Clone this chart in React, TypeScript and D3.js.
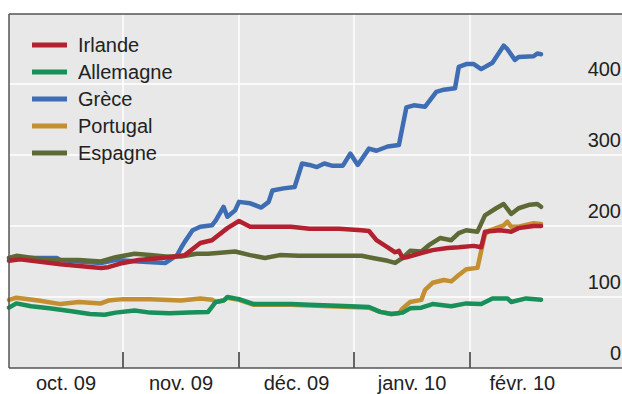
import React from "react";
import * as d3 from "d3";

type Pt = [string, number];

const monthTicks = ["2009-10-01", "2009-11-01", "2009-12-01", "2010-01-01", "2010-02-01", "2010-03-01"];
const monthLabels = ["oct. 09", "nov. 09", "déc. 09", "janv. 10", "févr. 10"];
const yTicks = [0, 100, 200, 300, 400];

const irlande: Pt[] = [
  ["2009-10-01", 151], ["2009-10-04", 153], ["2009-10-15", 146], ["2009-10-26", 141], ["2009-10-28", 142],
  ["2009-11-01", 148], ["2009-11-05", 152], ["2009-11-13", 156], ["2009-11-17", 159], ["2009-11-21", 176],
  ["2009-11-24", 180], ["2009-11-28", 197], ["2009-12-01", 207], ["2009-12-04", 199], ["2009-12-09", 199],
  ["2009-12-15", 199], ["2009-12-20", 196], ["2009-12-28", 196], ["2010-01-03", 194], ["2010-01-05", 193],
  ["2010-01-07", 180], ["2010-01-10", 170], ["2010-01-12", 163], ["2010-01-13", 165], ["2010-01-14", 155],
  ["2010-01-15", 156], ["2010-01-19", 162], ["2010-01-22", 166], ["2010-01-26", 169], ["2010-01-29", 170],
  ["2010-02-02", 172], ["2010-02-04", 170], ["2010-02-05", 192], ["2010-02-09", 194], ["2010-02-12", 192],
  ["2010-02-14", 197], ["2010-02-18", 200], ["2010-02-20", 200],
];

const allemagne: Pt[] = [
  ["2009-10-01", 85], ["2009-10-03", 91], ["2009-10-07", 87], ["2009-10-12", 84], ["2009-10-18", 80],
  ["2009-10-23", 76], ["2009-10-27", 75], ["2009-10-30", 78], ["2009-11-04", 81], ["2009-11-08", 78],
  ["2009-11-13", 77], ["2009-11-18", 78], ["2009-11-23", 79], ["2009-11-25", 93], ["2009-11-27", 95],
  ["2009-11-28", 100], ["2009-12-01", 97], ["2009-12-05", 90], ["2009-12-09", 90], ["2009-12-15", 90],
  ["2009-12-20", 89], ["2009-12-31", 87], ["2010-01-05", 86], ["2010-01-08", 79], ["2010-01-11", 76],
  ["2010-01-14", 78], ["2010-01-16", 84], ["2010-01-19", 85], ["2010-01-22", 90], ["2010-01-27", 87],
  ["2010-01-31", 91], ["2010-02-04", 90], ["2010-02-07", 98], ["2010-02-11", 98], ["2010-02-12", 93],
  ["2010-02-16", 98], ["2010-02-20", 96],
];

const grece: Pt[] = [
  ["2009-10-01", 155], ["2009-10-07", 155], ["2009-10-14", 155], ["2009-10-15", 152], ["2009-10-20", 150],
  ["2009-10-26", 148], ["2009-10-30", 152], ["2009-11-05", 150], ["2009-11-12", 148], ["2009-11-15", 159],
  ["2009-11-16", 169], ["2009-11-17", 178], ["2009-11-19", 194], ["2009-11-21", 199], ["2009-11-24", 201],
  ["2009-11-25", 208], ["2009-11-27", 227], ["2009-11-28", 213], ["2009-11-30", 222], ["2009-12-01", 234],
  ["2009-12-04", 232], ["2009-12-07", 226], ["2009-12-09", 234], ["2009-12-10", 250], ["2009-12-13", 253],
  ["2009-12-16", 255], ["2009-12-18", 288], ["2009-12-20", 286], ["2009-12-22", 283], ["2009-12-24", 288],
  ["2009-12-26", 285], ["2009-12-29", 285], ["2009-12-31", 302], ["2010-01-02", 286], ["2010-01-05", 309],
  ["2010-01-07", 306], ["2010-01-10", 312], ["2010-01-13", 314], ["2010-01-15", 367], ["2010-01-17", 370],
  ["2010-01-20", 368], ["2010-01-23", 389], ["2010-01-25", 392], ["2010-01-28", 394], ["2010-01-29", 424],
  ["2010-01-31", 428], ["2010-02-02", 428], ["2010-02-04", 421], ["2010-02-07", 430], ["2010-02-10", 454],
  ["2010-02-11", 449], ["2010-02-13", 434], ["2010-02-14", 438], ["2010-02-18", 439], ["2010-02-19", 443],
  ["2010-02-20", 442],
];

const portugal: Pt[] = [
  ["2009-10-01", 96], ["2009-10-03", 99], ["2009-10-09", 95], ["2009-10-15", 90], ["2009-10-20", 93],
  ["2009-10-26", 91], ["2009-10-28", 95], ["2009-11-01", 97], ["2009-11-08", 97], ["2009-11-16", 95],
  ["2009-11-21", 98], ["2009-11-24", 96], ["2009-11-25", 93], ["2009-11-27", 95], ["2009-11-28", 99],
  ["2009-12-01", 96], ["2009-12-05", 89], ["2009-12-09", 89], ["2009-12-15", 89], ["2009-12-20", 88],
  ["2009-12-31", 86], ["2010-01-05", 85], ["2010-01-08", 79], ["2010-01-11", 76], ["2010-01-13", 77],
  ["2010-01-14", 84], ["2010-01-16", 93], ["2010-01-19", 96],
  ["2010-01-20", 110], ["2010-01-22", 120], ["2010-01-25", 124], ["2010-01-27", 122], ["2010-01-29", 131],
  ["2010-01-31", 139], ["2010-02-03", 141], ["2010-02-04", 165], ["2010-02-05", 188], ["2010-02-06", 193],
  ["2010-02-08", 197], ["2010-02-10", 201], ["2010-02-11", 206], ["2010-02-12", 199], ["2010-02-14", 199],
  ["2010-02-18", 204], ["2010-02-20", 203],
];

const espagne: Pt[] = [
  ["2009-10-01", 155], ["2009-10-03", 158], ["2009-10-09", 154], ["2009-10-15", 152], ["2009-10-20", 152],
  ["2009-10-26", 150], ["2009-10-30", 156], ["2009-11-04", 161], ["2009-11-08", 159], ["2009-11-12", 157],
  ["2009-11-16", 157], ["2009-11-20", 161], ["2009-11-23", 161], ["2009-11-30", 164], ["2009-12-04", 159],
  ["2009-12-08", 155], ["2009-12-12", 159], ["2009-12-17", 158], ["2009-12-23", 158], ["2009-12-28", 158],
  ["2010-01-03", 158], ["2010-01-06", 155], ["2010-01-10", 151], ["2010-01-12", 148], ["2010-01-14", 155],
  ["2010-01-16", 165], ["2010-01-19", 164], ["2010-01-21", 173], ["2010-01-24", 183], ["2010-01-27", 180],
  ["2010-01-29", 190], ["2010-01-31", 194], ["2010-02-03", 192], ["2010-02-05", 215], ["2010-02-08", 225],
  ["2010-02-10", 231], ["2010-02-12", 217], ["2010-02-14", 225], ["2010-02-17", 230], ["2010-02-19", 231],
  ["2010-02-20", 227],
];

const seriesNames = ["Irlande", "Allemagne", "Grèce", "Portugal", "Espagne"];
const seriesData = [irlande, allemagne, grece, portugal, espagne];
const seriesColors = ["#b3202f", "#17905a", "#3e6db3", "#c48f30", "#5d6a35"];
// drawing order (bottom to top)
const drawOrder = [2, 3, 4, 0, 1];

const W = 622;
const H = 394;
const left = 9;
const right = 622;
const top = 14;
const bottom = 368;

export default function App() {
  const parse = d3.timeParse("%Y-%m-%d");
  const tickDates = monthTicks.map((s) => parse(s) as Date);
  const x = d3
    .scaleTime<number, number>()
    .domain(tickDates)
    .range([9, 123, 239, 354, 470, 574.7]);
  const y = d3.scaleLinear().domain([0, 100]).range([bottom, bottom - 71]);

  const line = d3
    .line<Pt>()
    .x((d) => x(parse(d[0]) as Date))
    .y((d) => y(d[1]))
    .curve(d3.curveLinear);

  const font = "'Liberation Sans', Arial, sans-serif";
  const fs = 20;

  return (
    <div style={{ position: "absolute", left: 0, top: 0 }}>
      <svg width={W} height={H} style={{ display: "block" }}>
        <rect x={0} y={0} width={W} height={H} fill="#ffffff" />
        <rect x={left} y={top} width={right - left} height={bottom - top} fill="#e8e8e8" />
        {yTicks.filter((v) => v > 0).map((v) => (
          <line key={"gy" + v} x1={left} x2={right} y1={y(v)} y2={y(v)} stroke="#ffffff" strokeWidth={1.5} />
        ))}
        {tickDates.slice(1, 5).map((d, i) => (
          <line key={"gx" + i} x1={x(d)} x2={x(d)} y1={top} y2={bottom} stroke="#ffffff" strokeWidth={1.5} />
        ))}
        {drawOrder.map((i) => (
          <path
            key={seriesNames[i]}
            d={line(seriesData[i]) || ""}
            fill="none"
            stroke={seriesColors[i]}
            strokeWidth={4.5}
            strokeLinejoin="round"
            strokeLinecap="round"
          />
        ))}
        {tickDates.slice(1, 5).map((d, i) => (
          <line key={"tk" + i} x1={x(d)} x2={x(d)} y1={bottom - 16} y2={bottom} stroke="#333" strokeWidth={1.5} />
        ))}
        <line x1={left} x2={right} y1={top} y2={top} stroke="#555" strokeWidth={1.5} />
        <line x1={left} x2={left} y1={top} y2={bottom} stroke="#555" strokeWidth={1.5} />
        <line x1={left} x2={right} y1={bottom} y2={bottom} stroke="#555" strokeWidth={1.5} />
        {yTicks.map((v) => (
          <text key={"yl" + v} x={621} y={y(v) - 8} textAnchor="end" fontFamily={font} fontSize={fs} fill="#222">
            {v}
          </text>
        ))}
        {monthLabels.map((lab, i) => (
          <text
            key={lab}
            x={(x(tickDates[i]) + x(tickDates[i + 1])) / 2}
            y={390}
            textAnchor="middle"
            fontFamily={font}
            fontSize={fs}
            fill="#222"
          >
            {lab}
          </text>
        ))}
        {seriesNames.map((n, i) => (
          <g key={"lg" + n} transform={`translate(0, ${45 + i * 27})`}>
            <line x1={32} x2={67} y1={0} y2={0} stroke={seriesColors[i]} strokeWidth={5} />
            <text x={78} y={7} fontFamily={font} fontSize={fs} fill="#222">
              {n}
            </text>
          </g>
        ))}
      </svg>
    </div>
  );
}
